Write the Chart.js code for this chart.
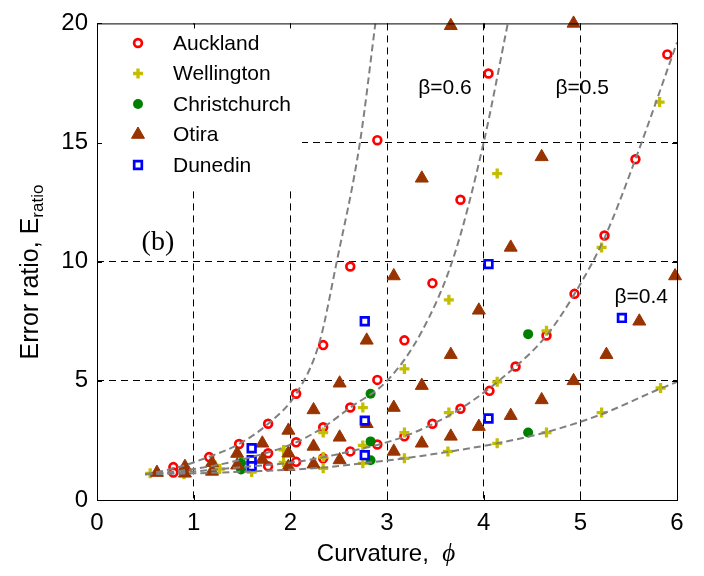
<!DOCTYPE html>
<html>
<head>
<meta charset="utf-8">
<script src="https://cdn.jsdelivr.net/npm/chart.js@4.4.0/dist/chart.umd.min.js"></script>
<style>
  html, body { margin: 0; padding: 0; background: #fff; }
  canvas { display: block; }
</style>
</head>
<body>
<canvas id="chart" width="704" height="576"></canvas>
<script>
// axis ticks
const xTicks = [0, 1, 2, 3, 4, 5, 6];
const yTicks = [0, 5, 10, 15, 20];

// series, [curvature, error ratio]
const seriesNames = ['Auckland', 'Wellington', 'Christchurch', 'Otira', 'Dunedin'];

const auckland = [
  [0.79, 1.38], [0.79, 1.15], [1.16, 1.8], [1.47, 2.35], [1.77, 3.2], [1.77, 1.96], [1.77, 1.42],
  [2.06, 4.46], [2.06, 2.42], [2.06, 1.6], [2.34, 6.5], [2.34, 3.05], [2.34, 1.75],
  [2.62, 9.8], [2.62, 3.88], [2.62, 2.04], [2.9, 15.1], [2.9, 5.04], [2.9, 2.33],
  [3.18, 6.7], [3.18, 2.67], [3.47, 9.1], [3.47, 3.2], [3.76, 12.6], [3.76, 3.83],
  [4.05, 17.9], [4.06, 4.58], [4.33, 5.6], [4.65, 6.9], [4.94, 8.65], [5.25, 11.1],
  [5.57, 14.3], [5.9, 18.7]
];

const wellington = [
  [0.55, 1.12], [0.9, 1.08], [1.22, 1.45], [1.27, 1.3], [1.6, 1.17], [1.6, 1.6],
  [1.93, 2.1], [1.93, 1.58], [2.34, 2.83], [2.34, 1.8], [2.34, 1.33],
  [2.75, 3.88], [2.75, 2.29], [2.75, 1.54], [3.18, 5.5], [3.18, 2.83], [3.18, 1.75],
  [3.64, 8.4], [3.64, 3.67], [3.63, 2.04], [4.14, 13.7], [4.14, 4.96], [4.14, 2.38],
  [4.65, 7.1], [4.65, 2.83], [5.22, 10.6], [5.22, 3.67], [5.82, 16.7], [5.83, 4.7]
];

const christchurch = [
  [1.49, 1.28], [1.49, 1.55], [2.83, 4.46], [2.83, 2.46], [2.83, 1.67],
  [4.46, 6.96], [4.46, 2.83]
];

const otira = [
  [0.62, 1.15], [0.91, 1.4], [0.91, 1.12], [1.19, 1.56], [1.19, 1.2], [1.45, 1.95], [1.45, 1.46],
  [1.71, 2.38], [1.71, 1.7], [1.98, 2.92], [1.98, 1.96], [1.98, 1.4],
  [2.24, 3.78], [2.24, 2.25], [2.24, 1.5], [2.51, 4.9], [2.51, 2.63], [2.51, 1.68],
  [2.79, 6.7], [2.79, 3.2], [3.07, 9.4], [3.07, 3.88], [3.07, 2.04],
  [3.36, 13.5], [3.36, 4.8], [3.36, 2.38], [3.66, 19.9], [3.66, 6.1], [3.66, 2.67],
  [3.95, 7.96], [3.95, 3.08], [4.28, 10.6], [4.28, 3.54], [4.6, 14.4], [4.6, 4.2],
  [4.93, 20], [4.93, 5.0], [5.27, 6.1], [5.61, 7.5], [5.98, 9.4]
];

const dunedin = [
  [1.6, 2.17], [1.6, 1.67], [1.6, 1.42], [2.77, 7.5], [2.77, 3.33], [2.77, 1.88],
  [4.05, 9.9], [4.05, 3.42], [5.43, 7.64]
];

// fitted curves (dashed grey)
const curve1 = [[0.5, 1.08], [0.8, 1.33], [1.15, 1.8], [1.47, 2.35], [1.77, 3.2], [2.06, 4.46],
  [2.3, 6.6], [2.48, 10], [2.72, 15], [2.88, 20]];
const curve2 = [[0.5, 1.08], [1, 1.3], [1.5, 1.7], [2.06, 2.42], [2.34, 3.05], [2.62, 3.88],
  [3, 5], [3.35, 7], [3.69, 10.2], [4.0, 15], [4.25, 20]];
const curve3 = [[0.5, 1.08], [1, 1.2], [1.5, 1.38], [2.06, 1.6], [2.62, 2.04], [3.18, 2.67],
  [3.76, 3.83], [4.33, 5.6], [4.65, 6.9], [4.94, 8.65], [5.25, 11.0], [5.57, 14.3], [6, 19.2]];
const curve4 = [[0.5, 1.08], [1, 1.12], [1.6, 1.2], [2.34, 1.36], [2.75, 1.54], [3.18, 1.75],
  [3.63, 2.02], [4.14, 2.38], [4.65, 2.85], [5.22, 3.6], [5.83, 4.68], [6, 4.95]];

// annotations
const noteTexts = ['β=0.6', 'β=0.5', 'β=0.4', '(b)'];
const noteX = [3.6, 5.02, 5.63, 0.63];
const noteY = [17.3, 17.3, 8.5, 10.8];

const SANS = "'Liberation Sans', Arial, sans-serif";
const SERIF = "'Liberation Serif', 'Times New Roman', serif";

const toXY = arr => arr.map(p => ({ x: p[0], y: p[1] }));

const curveStyle = {
  showLine: true,
  pointRadius: 0,
  borderColor: '#808080',
  borderWidth: 2,
  borderDash: [7, 4],
  cubicInterpolationMode: 'monotone',
  order: 0
};

const datasets = [
  { label: 'Auckland', data: toXY(auckland), pointStyle: 'circle', pointRadius: 3.9, borderWidth: 2.7,
    borderColor: '#ff0000', backgroundColor: '#ffffff', order: 5 },
  { label: 'Wellington', data: toXY(wellington), pointStyle: 'cross', pointRadius: 5, borderWidth: 3.3,
    borderColor: '#c4be00', backgroundColor: '#c4be00', order: 4 },
  { label: 'Christchurch', data: toXY(christchurch), pointStyle: 'circle', pointRadius: 5, borderWidth: 0,
    borderColor: '#008000', backgroundColor: '#008000', order: 3 },
  { label: 'Otira', data: toXY(otira), pointStyle: 'triangle', pointRadius: 7.5, borderWidth: 1,
    borderColor: '#993300', backgroundColor: '#993300', order: 2 },
  { label: 'Dunedin', data: toXY(dunedin), pointStyle: 'rect', pointRadius: 5.4, borderWidth: 2.7,
    borderColor: '#0000ff', backgroundColor: '#ffffff', order: 1 },
  { label: 'c1', data: toXY(curve1), ...curveStyle },
  { label: 'c2', data: toXY(curve2), ...curveStyle },
  { label: 'c3', data: toXY(curve3), ...curveStyle },
  { label: 'c4', data: toXY(curve4), ...curveStyle }
];
datasets.slice(0, 5).forEach(d => {
  d.pointHoverRadius = d.pointRadius;
  d.clip = false;
});

// frame, inward ticks, legend, titles and notes
const decor = {
  id: 'decor',
  beforeDatasetsDraw(chart) {
    // white legend box hides the grid behind it
    const { ctx, chartArea: a } = chart;
    ctx.save();
    ctx.fillStyle = '#fff';
    ctx.fillRect(a.left + 1, a.top + 1, 301 - a.left, 186 - a.top);
    ctx.restore();
  },
  afterDatasetsDraw(chart) {
    const { ctx } = chart;
    const xs = chart.scales.x, ys = chart.scales.y;
    ctx.save();
    ctx.setLineDash([]);

    // legend
    seriesNames.forEach((name, i) => {
      const ds = chart.data.datasets[i];
      const ly = 43 + i * 30.5;
      ctx.fillStyle = ds.backgroundColor;
      ctx.strokeStyle = ds.borderColor;
      ctx.lineWidth = ds.borderWidth;
      Chart.helpers.drawPoint(ctx, {
        pointStyle: ds.pointStyle, radius: ds.pointRadius, borderWidth: ds.borderWidth, rotation: 0
      }, 138, ly);
      ctx.fillStyle = '#000';
      ctx.font = '21px ' + SANS;
      ctx.textAlign = 'left';
      ctx.textBaseline = 'middle';
      ctx.fillText(name, 173, ly + 1);
    });

    // beta labels and panel tag
    noteTexts.forEach((t, i) => {
      ctx.fillStyle = '#000';
      ctx.font = t === '(b)' ? '28px ' + SERIF : '21px ' + SANS;
      ctx.textAlign = 'center';
      ctx.textBaseline = 'middle';
      ctx.fillText(t, xs.getPixelForValue(noteX[i]), ys.getPixelForValue(noteY[i]));
    });
    ctx.restore();
  },
  afterDraw(chart) {
    const { ctx, chartArea: a } = chart;
    const xs = chart.scales.x, ys = chart.scales.y;
    ctx.save();
    ctx.setLineDash([]);
    ctx.strokeStyle = '#000';
    ctx.lineWidth = 1;
    ctx.strokeRect(a.left + 0.5, a.top + 0.5, a.right - a.left, a.bottom - a.top);

    ctx.beginPath();
    xTicks.forEach(v => {
      const px = Math.round(xs.getPixelForValue(v)) + 0.5;
      ctx.moveTo(px, a.bottom); ctx.lineTo(px, a.bottom - 5);
      ctx.moveTo(px, a.top); ctx.lineTo(px, a.top + 5);
    });
    yTicks.forEach(v => {
      const py = Math.round(ys.getPixelForValue(v)) + 0.5;
      ctx.moveTo(a.left, py); ctx.lineTo(a.left + 5, py);
      ctx.moveTo(a.right, py); ctx.lineTo(a.right - 5, py);
    });
    ctx.stroke();

    // x title with italic phi
    ctx.fillStyle = '#000';
    ctx.textBaseline = 'alphabetic';
    ctx.textAlign = 'left';
    const part1 = 'Curvature,  ';
    ctx.font = '24px ' + SANS;
    const w1 = ctx.measureText(part1).width;
    ctx.font = 'italic 25px ' + SERIF;
    const w2 = ctx.measureText('ϕ').width;
    let x0 = 386 - (w1 + w2) / 2;
    ctx.font = '24px ' + SANS;
    ctx.fillText(part1, x0, 561);
    ctx.font = 'italic 25px ' + SERIF;
    ctx.fillText('ϕ', x0 + w1, 561);

    // y title with subscript
    ctx.translate(38, 272);
    ctx.rotate(-Math.PI / 2);
    const main = 'Error ratio, E';
    ctx.font = '25px ' + SANS;
    const m1 = ctx.measureText(main).width;
    ctx.font = '17px ' + SANS;
    const m2 = ctx.measureText('ratio').width;
    const start = -(m1 + m2) / 2;
    ctx.font = '25px ' + SANS;
    ctx.fillText(main, start, 0);
    ctx.font = '17px ' + SANS;
    ctx.fillText('ratio', start + m1, 5);
    ctx.restore();
  }
};

const gridColor = edge => ctx => (ctx.tick && (ctx.tick.value === edge[0] || ctx.tick.value === edge[1])) ? 'rgba(0,0,0,0)' : '#000';

new Chart(document.getElementById('chart'), {
  type: 'scatter',
  data: { datasets },
  options: {
    responsive: false,
    animation: false,
    events: [],
    layout: { padding: { left: 0, right: 27, top: 20, bottom: 0 } },
    plugins: { legend: { display: false }, tooltip: { enabled: false } },
    scales: {
      x: {
        type: 'linear', min: 0, max: 6,
        afterBuildTicks: s => { s.ticks = xTicks.map(v => ({ value: v })); },
        afterFit: s => { s.height = 76; },
        grid: { color: gridColor([0, 6]), lineWidth: 1, drawTicks: false },
        border: { display: false, dash: [7, 5] },
        ticks: { color: '#000', padding: 9, font: { family: SANS, size: 24 }, maxRotation: 0 }
      },
      y: {
        type: 'linear', min: 0, max: 20,
        afterBuildTicks: s => { s.ticks = yTicks.map(v => ({ value: v })); },
        afterFit: s => { s.width = 97; },
        grid: { color: gridColor([0, 20]), lineWidth: 1, drawTicks: false },
        border: { display: false, dash: [7, 5] },
        ticks: { color: '#000', padding: 9, font: { family: SANS, size: 24 } }
      }
    }
  },
  plugins: [decor]
});
</script>
</body>
</html>
